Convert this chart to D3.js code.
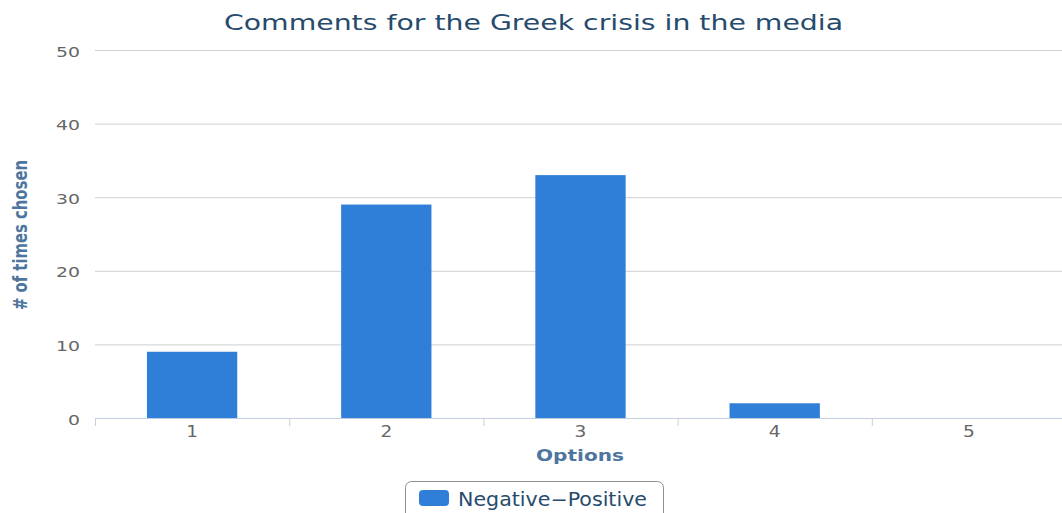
<!DOCTYPE html>
<html>
<head>
<meta charset="utf-8">
<script src="https://cdn.jsdelivr.net/npm/d3@7"></script>
<style>
  html, body { margin: 0; padding: 0; background: #fff; }
  svg { display: block; }
</style>
</head>
<body>
<svg id="chart" width="1062" height="513"></svg>
<script>
// Chart data
const categories = ["1", "2", "3", "4", "5"];
const seriesName = "Negative\u2212Positive";
const values = [9, 29, 33, 2, 0];
const yTicks = [0, 10, 20, 30, 40, 50];

const svg = d3.select("#chart");
const margin = { left: 95, right: -4, top: 50, bottom: 95 };
const W = 1062, H = 513;

const x = d3.scaleBand()
  .domain(categories)
  .range([margin.left, W - margin.right])
  .paddingInner(0.535)
  .paddingOuter(0.2675);

const y = d3.scaleLinear()
  .domain([0, 50])
  .range([418, 50]);

const fontMain = "'DejaVu Sans', Verdana, sans-serif";

// Horizontal grid lines
svg.append("g")
  .selectAll("line")
  .data(yTicks.filter(d => d > 0))
  .join("line")
  .attr("x1", margin.left)
  .attr("x2", W)
  .attr("y1", d => y(d) + 0.5)
  .attr("y2", d => y(d) + 0.5)
  .attr("stroke", "#cfcfcf")
  .attr("stroke-width", 1);

// Y tick labels (wide face)
svg.append("g")
  .selectAll("text")
  .data(yTicks)
  .join("text")
  .attr("transform", d => `translate(80,${y(d) + 6.5}) scale(1.3,1)`)
  .attr("text-anchor", "end")
  .attr("font-family", fontMain)
  .attr("font-size", 14.5)
  .attr("fill", "#666")
  .text(d => d);

// Bars
svg.append("g")
  .selectAll("rect")
  .data(values)
  .join("rect")
  .attr("x", (d, i) => x(categories[i]))
  .attr("width", x.bandwidth())
  .attr("y", d => y(d))
  .attr("height", d => y(0) - y(d))
  .attr("fill", "#2f7ed8");

// X axis line
const xAxis = d3.axisBottom(x).tickSize(0).tickFormat("");
const gx = svg.append("g").attr("transform", `translate(0,${y(0)})`).call(xAxis);
gx.select(".domain").attr("stroke", "#c0d0e0").attr("d", `M${margin.left},0.5H${W}`);

// Ticks at band boundaries
const step = x.step();
const boundaries = d3.range(categories.length + 1).map(i => margin.left + i * step);
svg.append("g")
  .selectAll("line")
  .data(boundaries)
  .join("line")
  .attr("x1", d => d + 0.5)
  .attr("x2", d => d + 0.5)
  .attr("y1", y(0))
  .attr("y2", y(0) + 8)
  .attr("stroke", "#c0d0e0")
  .attr("stroke-width", 1);

// X tick labels
svg.append("g")
  .selectAll("text")
  .data(categories)
  .join("text")
  .attr("transform", d => `translate(${x(d) + x.bandwidth() / 2},437) scale(1.2,1)`)
  .attr("text-anchor", "middle")
  .attr("font-family", fontMain)
  .attr("font-size", 15.5)
  .attr("fill", "#666")
  .text(d => d);

// Title
svg.append("text")
  .attr("x", 224)
  .attr("y", 29.5)
  .attr("font-family", fontMain)
  .attr("font-size", 22)
  .attr("fill", "#274b6d")
  .attr("textLength", 619)
  .attr("lengthAdjust", "spacingAndGlyphs")
  .text("Comments for the Greek crisis in the media");

// X axis title
svg.append("text")
  .attr("x", 536)
  .attr("y", 461)
  .attr("font-family", fontMain)
  .attr("font-size", 16.5)
  .attr("font-weight", "bold")
  .attr("fill", "#4d759e")
  .attr("textLength", 88)
  .attr("lengthAdjust", "spacingAndGlyphs")
  .text("Options");

// Y axis title
svg.append("text")
  .attr("transform", "translate(27,310) rotate(-90)")
  .attr("font-family", "'Liberation Sans Narrow', 'DejaVu Sans Condensed', sans-serif")
  .attr("font-size", 19)
  .attr("font-weight", "bold")
  .attr("fill", "#4d759e")
  .attr("textLength", 150)
  .attr("lengthAdjust", "spacingAndGlyphs")
  .text("# of times chosen");

// Legend
const legend = svg.append("g");
legend.append("rect")
  .attr("x", 405.5).attr("y", 481.5)
  .attr("width", 258).attr("height", 40)
  .attr("rx", 6)
  .attr("fill", "#fff")
  .attr("stroke", "#909090")
  .attr("stroke-width", 1);
legend.append("rect")
  .attr("x", 419).attr("y", 490)
  .attr("width", 30).attr("height", 16)
  .attr("rx", 4)
  .attr("fill", "#2f7ed8");
legend.append("text")
  .attr("x", 458)
  .attr("y", 505.5)
  .attr("font-family", fontMain)
  .attr("font-size", 19)
  .attr("fill", "#274b6d")
  .attr("textLength", 189)
  .attr("lengthAdjust", "spacingAndGlyphs")
  .text(seriesName);
</script>
</body>
</html>
